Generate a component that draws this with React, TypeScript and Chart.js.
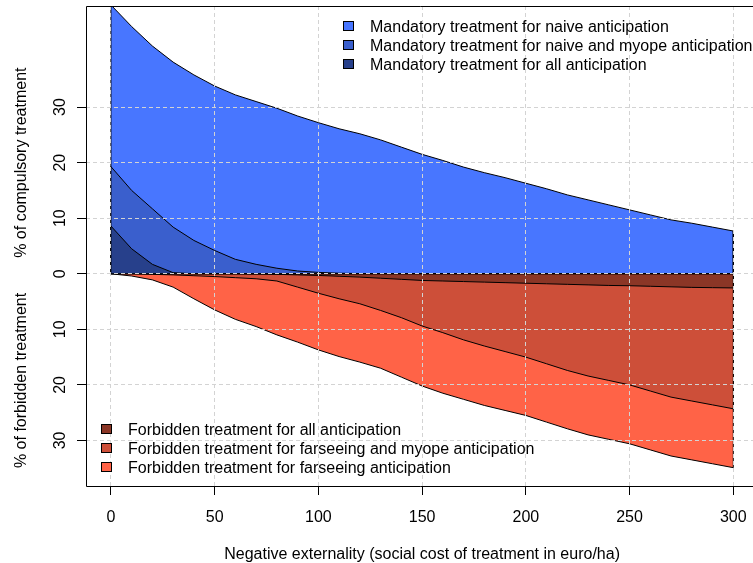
import { useEffect, useRef } from "react";
import { Chart, registerables } from "chart.js";

Chart.register(...registerables);

// ---------- data ----------
const xValues = [0, 10, 20, 30, 40, 50, 60, 70, 80, 90, 100, 110, 120, 130, 140, 150, 160, 170, 180, 190, 200, 210, 220, 230, 240, 250, 260, 270, 280, 290, 300];

// mandatory (positive side)
const mandatoryNaive = [48.4, 44.5, 41.0, 38.1, 35.8, 33.8, 32.2, 31.0, 29.8, 28.4, 27.2, 26.1, 25.2, 24.1, 22.8, 21.5, 20.4, 19.2, 18.2, 17.3, 16.3, 15.3, 14.2, 13.3, 12.4, 11.5, 10.6, 9.7, 9.1, 8.4, 7.7];
const mandatoryNaiveMyope = [19.3, 15.0, 11.7, 8.4, 6.0, 4.2, 2.6, 1.7, 1.0, 0.5, 0.25, 0.1, 0.05, 0, 0, 0, 0, 0, 0, 0, 0, 0, 0, 0, 0, 0, 0, 0, 0, 0, 0];
const mandatoryAll = [8.6, 4.5, 1.7, 0.2, 0, 0, 0, 0, 0, 0, 0, 0, 0, 0, 0, 0, 0, 0, 0, 0, 0, 0, 0, 0, 0, 0, 0, 0, 0, 0, 0];

// forbidden (negative side)
const forbiddenAll = [0, 0, 0, 0, 0, 0, 0, -0.05, -0.1, -0.2, -0.3, -0.45, -0.6, -0.8, -1.0, -1.2, -1.3, -1.4, -1.5, -1.6, -1.7, -1.8, -1.9, -2.0, -2.1, -2.15, -2.25, -2.35, -2.45, -2.5, -2.55];
const forbiddenFarseeingMyope = [0, 0, -0.1, -0.2, -0.35, -0.5, -0.7, -0.9, -1.3, -2.4, -3.5, -4.5, -5.4, -6.6, -7.9, -9.4, -10.6, -11.9, -13.0, -14.0, -15.0, -16.2, -17.4, -18.4, -19.2, -20.0, -21.1, -22.2, -22.9, -23.6, -24.3];
const forbiddenFarseeing = [0, -0.4, -1.1, -2.4, -4.5, -6.5, -8.2, -9.5, -11.0, -12.3, -13.7, -14.9, -15.9, -17.0, -18.6, -20.2, -21.5, -22.6, -23.7, -24.6, -25.5, -26.7, -27.9, -29.0, -29.8, -30.6, -31.7, -32.8, -33.5, -34.2, -34.9];

const xTicks = [0, 50, 100, 150, 200, 250, 300];
const yTicks = [-30, -20, -10, 0, 10, 20, 30];

const topLegendLabels = [
  "Mandatory treatment for naive anticipation",
  "Mandatory treatment for naive and myope anticipation",
  "Mandatory treatment for all anticipation",
];
const bottomLegendLabels = [
  "Forbidden treatment for all anticipation",
  "Forbidden treatment for farseeing and myope anticipation",
  "Forbidden treatment for farseeing anticipation",
];

const xTitle = "Negative externality (social cost of treatment in euro/ha)";
const yTitleTop = "% of compulsory treatment";
const yTitleBottom = "% of forbidden treatment";

// ---------- styles ----------
const BLUE1 = "#4876FF";
const BLUE3 = "#3A5FCD";
const BLUE4 = "#27408B";
const RED1 = "#FF6347";
const RED3 = "#CD4F39";
const RED4 = "#8B3626";
const FONT = '16px "Liberation Sans", Arial, Helvetica, sans-serif';

function poly(vals: number[]) {
  const pts = xValues.map((x, i) => ({ x, y: vals[i] }));
  return [{ x: xValues[0], y: 0 }, ...pts, { x: xValues[xValues.length - 1], y: 0 }];
}

function area(label: string, vals: number[], color: string, order: number) {
  return {
    label,
    data: poly(vals),
    backgroundColor: color,
    borderColor: "#000000",
    borderWidth: 1,
    pointRadius: 0,
    pointHoverRadius: 0,
    tension: 0,
    fill: "origin",
    order,
  };
}

const overlayPlugin = {
  id: "rOverlay",
  afterDraw(chart: any) {
    const ctx = chart.ctx as CanvasRenderingContext2D;
    const ca = chart.chartArea;
    const xs = chart.scales.x;
    const ys = chart.scales.y;
    ctx.save();
    // box (top, left, bottom)
    ctx.strokeStyle = "#000";
    ctx.lineWidth = 1;
    ctx.setLineDash([]);
    ctx.beginPath();
    ctx.moveTo(chart.width + 5, ca.top + 0.5);
    ctx.lineTo(ca.left + 0.5, ca.top + 0.5);
    ctx.lineTo(ca.left + 0.5, ca.bottom + 0.5);
    ctx.lineTo(chart.width + 5, ca.bottom + 0.5);
    ctx.stroke();

    ctx.fillStyle = "#000";
    ctx.font = FONT;
    // x tick labels
    ctx.textAlign = "center";
    ctx.textBaseline = "alphabetic";
    xTicks.forEach((v) => {
      ctx.fillText(String(v), xs.getPixelForValue(v), 521.5);
    });
    // x title
    ctx.fillText(xTitle, (ca.left + xs.getPixelForValue(312)) / 2, 559);

    // y tick labels (rotated)
    yTicks.forEach((v) => {
      ctx.save();
      ctx.translate(65, ys.getPixelForValue(v));
      ctx.rotate(-Math.PI / 2);
      ctx.textAlign = "center";
      ctx.textBaseline = "alphabetic";
      ctx.fillText(String(Math.abs(v)), 0, 0);
      ctx.restore();
    });
    // y titles
    const yt = (text: string, val: number) => {
      ctx.save();
      ctx.translate(25.5, ys.getPixelForValue(val));
      ctx.rotate(-Math.PI / 2);
      ctx.textAlign = "center";
      ctx.textBaseline = "alphabetic";
      ctx.fillText(text, 0, 0);
      ctx.restore();
    };
    yt(yTitleTop, 20);
    yt(yTitleBottom, -19.2);

    // legends
    const legend = (labels: string[], colors: string[], bx: number, tx: number, y0: number, dy: number) => {
      labels.forEach((lab, i) => {
        const cy = y0 + i * dy;
        ctx.fillStyle = colors[i];
        ctx.fillRect(bx, Math.round(cy - 5), 11, 10);
        ctx.strokeStyle = "#000";
        ctx.lineWidth = 1;
        ctx.strokeRect(bx + 0.5, Math.round(cy - 5) + 0.5, 10, 9);
        ctx.fillStyle = "#000";
        ctx.textAlign = "left";
        ctx.textBaseline = "alphabetic";
        ctx.fillText(lab, tx, cy + 5.7);
      });
    };
    legend(topLegendLabels, [BLUE1, BLUE3, BLUE4], 343, 370, 25.8, 19.3);
    legend(bottomLegendLabels, [RED4, RED3, RED1], 101, 128, 429.3, 19);
    ctx.restore();
  },
};

export default function App() {
  const ref = useRef<HTMLCanvasElement | null>(null);
  useEffect(() => {
    if (!ref.current) return;
    const gridCommon = {
      color: "#D3D3D3",
      lineWidth: 1,
      drawTicks: true,
      tickLength: 9,
      tickColor: "#000000",
      tickWidth: 1,
      tickBorderDash: [],
      drawOnChartArea: true,
      z: 1,
    };
    const chart = new Chart(ref.current, {
      type: "line",
      data: {
        datasets: [
          {
            label: "zero",
            data: [{ x: 0, y: 0 }, { x: 300, y: 0 }],
            borderColor: "#000000",
            borderWidth: 1,
            pointRadius: 0,
            fill: false,
            order: 0,
          } as any,
          area(topLegendLabels[2], mandatoryAll, BLUE4, 1),
          area(topLegendLabels[1], mandatoryNaiveMyope, BLUE3, 2),
          area(topLegendLabels[0], mandatoryNaive, BLUE1, 3),
          area(bottomLegendLabels[0], forbiddenAll, RED4, 1),
          area(bottomLegendLabels[1], forbiddenFarseeingMyope, RED3, 2),
          area(bottomLegendLabels[2], forbiddenFarseeing, RED1, 3),
        ],
      },
      options: {
        animation: false,
        responsive: false,
        devicePixelRatio: 1,
        layout: { padding: { left: 77, top: 6, right: 0, bottom: 68 } },
        plugins: { legend: { display: false }, tooltip: { enabled: false } },
        events: [],
        scales: {
          x: {
            type: "linear",
            min: -12,
            max: 309.5,
            afterBuildTicks: (s: any) => {
              s.ticks = xTicks.map((v) => ({ value: v }));
            },
            ticks: { display: false },
            grid: gridCommon,
            border: { display: false, dash: [4, 3] },
          },
          y: {
            type: "linear",
            min: -38.2,
            max: 48.2,
            afterBuildTicks: (s: any) => {
              s.ticks = yTicks.map((v) => ({ value: v }));
            },
            ticks: { display: false },
            grid: gridCommon,
            border: { display: false, dash: [4, 3] },
          },
        },
      } as any,
      plugins: [overlayPlugin],
    });
    return () => chart.destroy();
  }, []);
  return (
    <canvas
      ref={ref}
      width={753}
      height={563}
      style={{ position: "fixed", left: 0, top: 0, display: "block", background: "#fff" }}
    />
  );
}
